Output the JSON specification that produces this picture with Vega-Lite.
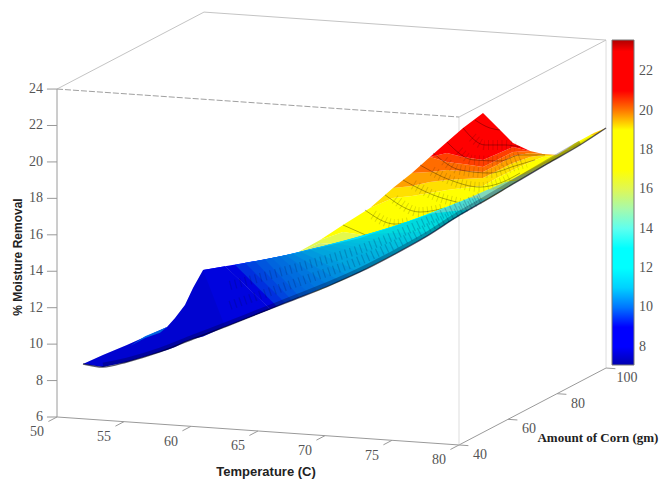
{
"$schema":"https://vega.github.io/schema/vega-lite/v6.json",
"width":660,"height":480,"padding":0,"autosize":{"type":"none"},
"background":"white",
"config":{"view":{"stroke":null}},
"datasets":{
"box":[
{"part":"axis","T":50,"C":40,"M":24,"T2":50,"C2":40,"M2":6},
{"part":"axis","T":50,"C":40,"M":6,"T2":80,"C2":40,"M2":6},
{"part":"axis","T":80,"C":40,"M":6,"T2":80,"C2":100,"M2":6},
{"part":"wall","T":80,"C":40,"M":6,"T2":80,"C2":40,"M2":24},
{"part":"wall","T":80,"C":100,"M":6,"T2":80,"C2":100,"M2":24},
{"part":"top","T":50,"C":40,"M":24,"T2":50,"C2":100,"M2":24},
{"part":"top","T":50,"C":100,"M":24,"T2":80,"C2":100,"M2":24},
{"part":"top","T":80,"C":40,"M":24,"T2":80,"C2":100,"M2":24},
{"part":"axis","T":50,"C":40,"M":24,"T2":49.25,"C2":40,"M2":23.96},
{"part":"axis","T":50,"C":40,"M":22,"T2":49.25,"C2":40,"M2":21.96},
{"part":"axis","T":50,"C":40,"M":20,"T2":49.25,"C2":40,"M2":19.96},
{"part":"axis","T":50,"C":40,"M":18,"T2":49.25,"C2":40,"M2":17.96},
{"part":"axis","T":50,"C":40,"M":16,"T2":49.25,"C2":40,"M2":15.96},
{"part":"axis","T":50,"C":40,"M":14,"T2":49.25,"C2":40,"M2":13.96},
{"part":"axis","T":50,"C":40,"M":12,"T2":49.25,"C2":40,"M2":11.96},
{"part":"axis","T":50,"C":40,"M":10,"T2":49.25,"C2":40,"M2":9.96},
{"part":"axis","T":50,"C":40,"M":8,"T2":49.25,"C2":40,"M2":7.96},
{"part":"axis","T":50,"C":40,"M":6,"T2":49.25,"C2":40,"M2":5.96},
{"part":"axis","T":50,"C":40,"M":6,"T2":50,"C2":36.5,"M2":6},
{"part":"axis","T":55,"C":40,"M":6,"T2":55,"C2":36.5,"M2":6},
{"part":"axis","T":60,"C":40,"M":6,"T2":60,"C2":36.5,"M2":6},
{"part":"axis","T":65,"C":40,"M":6,"T2":65,"C2":36.5,"M2":6},
{"part":"axis","T":70,"C":40,"M":6,"T2":70,"C2":36.5,"M2":6},
{"part":"axis","T":75,"C":40,"M":6,"T2":75,"C2":36.5,"M2":6},
{"part":"axis","T":80,"C":40,"M":6,"T2":80,"C2":36.5,"M2":6},
{"part":"axis","T":80,"C":40,"M":6,"T2":80.7,"C2":40,"M2":6},
{"part":"axis","T":80,"C":60,"M":6,"T2":80.7,"C2":60,"M2":6},
{"part":"axis","T":80,"C":80,"M":6,"T2":80.7,"C2":80,"M2":6},
{"part":"axis","T":80,"C":100,"M":6,"T2":80.7,"C2":100,"M2":6}
],
"dashedEdge":[{"T":50,"C":40,"M":24,"T2":80,"C2":40,"M2":24}],
"zTicks":[{"T":50,"C":40,"M":24},{"T":50,"C":40,"M":22},{"T":50,"C":40,"M":20},{"T":50,"C":40,"M":18},{"T":50,"C":40,"M":16},{"T":50,"C":40,"M":14},{"T":50,"C":40,"M":12},{"T":50,"C":40,"M":10},{"T":50,"C":40,"M":8},{"T":50,"C":40,"M":6}],
"tTicks":[{"T":50,"C":40,"M":6},{"T":55,"C":40,"M":6},{"T":60,"C":40,"M":6},{"T":65,"C":40,"M":6},{"T":70,"C":40,"M":6},{"T":75,"C":40,"M":6},{"T":80,"C":40,"M":6}],
"cTicks":[{"T":80,"C":40,"M":6},{"T":80,"C":60,"M":6},{"T":80,"C":80,"M":6},{"T":80,"C":100,"M":6}],
"sheetB":[
{"b":"B1","L":15.6,"X":67.61,"lo":12.48,"hi":14.89},{"b":"B1","L":15.6,"X":69.63,"lo":12.97,"hi":15.55},{"b":"B1","L":15.6,"X":71.34,"lo":13.52,"hi":15.44},{"b":"B1","L":15.6,"X":73.36,"lo":14.23,"hi":14.23},
{"b":"B2","L":16.1,"X":67.61,"lo":14.89,"hi":14.89},{"b":"B2","L":16.1,"X":69.63,"lo":15.55,"hi":15.71},{"b":"B2","L":16.1,"X":71.34,"lo":15.44,"hi":16.15},{"b":"B2","L":16.1,"X":73.36,"lo":14.23,"hi":15.93},{"b":"B2","L":16.1,"X":75.07,"lo":14.89,"hi":14.89},
{"b":"B3","L":17.8,"X":69.63,"lo":15.71,"hi":15.71},{"b":"B3","L":17.8,"X":71.34,"lo":16.15,"hi":16.54},{"b":"B3","L":17.8,"X":73.36,"lo":15.93,"hi":17.47},{"b":"B3","L":17.8,"X":75.07,"lo":14.89,"hi":18.02},{"b":"B3","L":17.8,"X":76.49,"lo":15.50,"hi":18.13},{"b":"B3","L":17.8,"X":77.83,"lo":16.10,"hi":18.29},{"b":"B3","L":17.8,"X":79.10,"lo":16.70,"hi":18.46},{"b":"B3","L":17.8,"X":80.30,"lo":17.31,"hi":18.57},{"b":"B3","L":17.8,"X":81.79,"lo":17.80,"hi":18.68},{"b":"B3","L":17.8,"X":82.84,"lo":18.24,"hi":19.12},{"b":"B3","L":17.8,"X":84.03,"lo":18.79,"hi":19.56},{"b":"B3","L":17.8,"X":85.30,"lo":19.39,"hi":20.00},{"b":"B3","L":17.8,"X":86.27,"lo":19.83,"hi":20.27},{"b":"B3","L":17.8,"X":87.39,"lo":20.38,"hi":20.38},
{"b":"B4","L":19.3,"X":73.36,"lo":17.47,"hi":17.47},{"b":"B4","L":19.3,"X":75.07,"lo":18.02,"hi":18.57},{"b":"B4","L":19.3,"X":76.49,"lo":18.13,"hi":18.68},{"b":"B4","L":19.3,"X":77.83,"lo":18.29,"hi":18.90},{"b":"B4","L":19.3,"X":79.10,"lo":18.46,"hi":19.01},{"b":"B4","L":19.3,"X":80.30,"lo":18.57,"hi":19.06},{"b":"B4","L":19.3,"X":81.79,"lo":18.68,"hi":19.12},{"b":"B4","L":19.3,"X":82.84,"lo":19.12,"hi":19.50},{"b":"B4","L":19.3,"X":84.03,"lo":19.56,"hi":19.94},{"b":"B4","L":19.3,"X":85.30,"lo":20.00,"hi":20.27},{"b":"B4","L":19.3,"X":86.27,"lo":20.27,"hi":20.38},{"b":"B4","L":19.3,"X":87.39,"lo":20.38,"hi":20.38},
{"b":"B5","L":19.7,"X":75.07,"lo":18.57,"hi":18.57},{"b":"B5","L":19.7,"X":76.49,"lo":18.68,"hi":19.39},{"b":"B5","L":19.7,"X":77.83,"lo":18.90,"hi":19.45},{"b":"B5","L":19.7,"X":79.10,"lo":19.01,"hi":19.56},{"b":"B5","L":19.7,"X":80.30,"lo":19.06,"hi":19.50},{"b":"B5","L":19.7,"X":81.79,"lo":19.12,"hi":19.45},{"b":"B5","L":19.7,"X":82.84,"lo":19.50,"hi":19.83},{"b":"B5","L":19.7,"X":84.03,"lo":19.94,"hi":20.33},{"b":"B5","L":19.7,"X":85.30,"lo":20.27,"hi":20.49},{"b":"B5","L":19.7,"X":86.27,"lo":20.38,"hi":20.43},{"b":"B5","L":19.7,"X":87.39,"lo":20.38,"hi":20.38},
{"b":"B6","L":20.2,"X":76.49,"lo":19.39,"hi":19.39},{"b":"B6","L":20.2,"X":77.83,"lo":19.45,"hi":20.27},{"b":"B6","L":20.2,"X":79.10,"lo":19.56,"hi":20.00},{"b":"B6","L":20.2,"X":80.30,"lo":19.50,"hi":19.89},{"b":"B6","L":20.2,"X":81.79,"lo":19.45,"hi":19.72},{"b":"B6","L":20.2,"X":82.84,"lo":19.83,"hi":20.11},{"b":"B6","L":20.2,"X":84.03,"lo":20.33,"hi":20.54},{"b":"B6","L":20.2,"X":85.30,"lo":20.49,"hi":20.60},{"b":"B6","L":20.2,"X":86.27,"lo":20.43,"hi":20.43},
{"b":"B7","L":20.7,"X":77.83,"lo":20.27,"hi":20.27},{"b":"B7","L":20.7,"X":79.10,"lo":20.00,"hi":20.49},{"b":"B7","L":20.7,"X":80.30,"lo":19.89,"hi":20.27},{"b":"B7","L":20.7,"X":81.79,"lo":19.72,"hi":20.11},{"b":"B7","L":20.7,"X":82.84,"lo":20.11,"hi":20.43},{"b":"B7","L":20.7,"X":84.03,"lo":20.54,"hi":20.82},{"b":"B7","L":20.7,"X":85.30,"lo":20.60,"hi":20.60},
{"b":"B8","L":22,"X":77.83,"lo":20.27,"hi":20.27},{"b":"B8","L":22,"X":79.10,"lo":20.49,"hi":21.09},{"b":"B8","L":22,"X":80.30,"lo":20.27,"hi":21.86},{"b":"B8","L":22,"X":81.79,"lo":20.11,"hi":22.69},{"b":"B8","L":22,"X":82.84,"lo":20.43,"hi":21.92},{"b":"B8","L":22,"X":84.03,"lo":20.82,"hi":21.04},{"b":"B8","L":22,"X":85.30,"lo":20.60,"hi":20.60}
],
"arcs":[
{"a":1,"X":71.34,"Y":16.54},{"a":1,"X":73.36,"Y":15.88},
{"a":2,"X":72.98,"Y":17.36},{"a":2,"X":75.22,"Y":16.59},{"a":2,"X":76.34,"Y":16.70},
{"a":3,"X":74.48,"Y":18.19},{"a":3,"X":77.09,"Y":17.25},{"a":3,"X":78.95,"Y":17.47},
{"a":4,"X":75.82,"Y":19.01},{"a":4,"X":78.06,"Y":18.19},{"a":4,"X":80.07,"Y":17.75},
{"a":5,"X":77.09,"Y":19.83},{"a":5,"X":79.33,"Y":19.01},{"a":5,"X":81.57,"Y":18.62},{"a":5,"X":83.06,"Y":18.84},{"a":5,"X":84.55,"Y":19.39},
{"a":6,"X":78.06,"Y":20.49},{"a":6,"X":80.07,"Y":19.56},{"a":6,"X":82.31,"Y":19.39},{"a":6,"X":84.18,"Y":19.78},{"a":6,"X":85.67,"Y":20.11},
{"a":7,"X":79.10,"Y":21.09},{"a":7,"X":81.05,"Y":20.11},{"a":7,"X":83.06,"Y":20.05},{"a":7,"X":84.55,"Y":20.38},{"a":7,"X":86.42,"Y":20.38},
{"a":8,"X":80.30,"Y":21.86},{"a":8,"X":81.94,"Y":20.93},{"a":8,"X":83.43,"Y":20.93},{"a":8,"X":84.55,"Y":20.82},
{"a":9,"X":81.19,"Y":22.30},{"a":9,"X":82.31,"Y":21.86},{"a":9,"X":83.06,"Y":21.75}
],
"hatch":[
{"a":2,"X":73.6,"Y":17.1},{"a":2,"X":75.22,"Y":16.59},{"a":2,"X":76.34,"Y":16.70},
{"a":3,"X":75.2,"Y":17.95},{"a":3,"X":77.09,"Y":17.25},{"a":3,"X":78.95,"Y":17.47},
{"a":4,"X":76.6,"Y":18.75},{"a":4,"X":78.06,"Y":18.19},{"a":4,"X":80.07,"Y":17.75},
{"a":5,"X":78.0,"Y":19.5},{"a":5,"X":79.33,"Y":19.01},{"a":5,"X":81.57,"Y":18.62},{"a":5,"X":83.06,"Y":18.84},{"a":5,"X":84.0,"Y":19.15},
{"a":6,"X":78.9,"Y":20.05},{"a":6,"X":80.07,"Y":19.56},{"a":6,"X":82.31,"Y":19.39},{"a":6,"X":84.18,"Y":19.78},{"a":6,"X":85.0,"Y":19.95},
{"a":7,"X":80.0,"Y":20.6},{"a":7,"X":81.05,"Y":20.11},{"a":7,"X":83.06,"Y":20.05},{"a":7,"X":84.55,"Y":20.30},
{"a":8,"X":81.0,"Y":21.35},{"a":8,"X":81.94,"Y":20.93},{"a":8,"X":83.43,"Y":20.93},{"a":8,"X":84.2,"Y":20.85}
],
"sheetA":[
{"b":"A00","L":7.5,"X":51.94,"lo":8.91,"hi":8.91},{"b":"A00","L":7.5,"X":53.43,"lo":8.74,"hi":9.40},{"b":"A00","L":7.5,"X":55.22,"lo":9.02,"hi":9.95},{"b":"A00","L":7.5,"X":56.72,"lo":9.35,"hi":10.45},{"b":"A00","L":7.5,"X":58.21,"lo":9.68,"hi":10.94},{"b":"A00","L":7.5,"X":58.81,"lo":9.84,"hi":11.43},{"b":"A00","L":7.5,"X":59.55,"lo":10.12,"hi":12.15},{"b":"A00","L":7.5,"X":60.15,"lo":10.28,"hi":13.08},{"b":"A00","L":7.5,"X":60.90,"lo":10.42,"hi":14.07},{"b":"A00","L":7.5,"X":62.54,"lo":10.95,"hi":14.27},{"b":"A00","L":7.5,"X":65.90,"lo":11.92,"hi":11.92},
{"b":"A01","L":10,"X":55.45,"lo":9.9,"hi":9.9},{"b":"A01","L":10,"X":56.57,"lo":10.33,"hi":10.43},{"b":"A01","L":10,"X":57.69,"lo":10.62,"hi":10.78},{"b":"A01","L":10,"X":58.21,"lo":10.94,"hi":10.94},
{"b":"A02","L":7.6,"X":60.90,"lo":14.07,"hi":14.07},{"b":"A02","L":7.6,"X":62.54,"lo":10.95,"hi":14.27},{"b":"A02","L":7.6,"X":65.90,"lo":11.92,"hi":11.92},
{"b":"A03","L":9.4,"X":62.54,"lo":14.27,"hi":14.27},{"b":"A03","L":9.4,"X":65.90,"lo":11.92,"hi":14.69},{"b":"A03","L":9.4,"X":66.42,"lo":12.07,"hi":12.07},
{"b":"A04","L":9.55,"X":63.28,"lo":14.35,"hi":14.35},{"b":"A04","L":9.55,"X":66.42,"lo":12.07,"hi":14.77},{"b":"A04","L":9.55,"X":67.02,"lo":12.25,"hi":12.25},
{"b":"A05","L":9.7,"X":64.03,"lo":14.46,"hi":14.46},{"b":"A05","L":9.7,"X":67.02,"lo":12.25,"hi":14.86},{"b":"A05","L":9.7,"X":67.54,"lo":12.40,"hi":12.40},
{"b":"A06","L":9.85,"X":64.78,"lo":14.55,"hi":14.55},{"b":"A06","L":9.85,"X":67.54,"lo":12.40,"hi":14.95},{"b":"A06","L":9.85,"X":68.13,"lo":12.57,"hi":12.57},
{"b":"A07","L":10,"X":65.52,"lo":14.64,"hi":14.64},{"b":"A07","L":10,"X":68.13,"lo":12.57,"hi":15.04},{"b":"A07","L":10,"X":68.81,"lo":12.77,"hi":12.77},
{"b":"A08","L":10.1,"X":66.04,"lo":14.72,"hi":14.72},{"b":"A08","L":10.1,"X":68.81,"lo":12.77,"hi":15.17},{"b":"A08","L":10.1,"X":69.48,"lo":12.97,"hi":12.97},
{"b":"A09","L":10.2,"X":66.64,"lo":14.81,"hi":14.81},{"b":"A09","L":10.2,"X":69.48,"lo":12.97,"hi":15.31},{"b":"A09","L":10.2,"X":70.30,"lo":13.21,"hi":13.21},
{"b":"A10","L":10.35,"X":67.09,"lo":14.88,"hi":14.88},{"b":"A10","L":10.35,"X":70.30,"lo":13.21,"hi":15.46},{"b":"A10","L":10.35,"X":71.12,"lo":13.47,"hi":13.47},
{"b":"A11","L":10.5,"X":67.61,"lo":14.96,"hi":14.96},{"b":"A11","L":10.5,"X":71.12,"lo":13.47,"hi":15.60},{"b":"A11","L":10.5,"X":71.87,"lo":13.72,"hi":13.72},
{"b":"A12","L":10.65,"X":68.21,"lo":15.06,"hi":15.06},{"b":"A12","L":10.65,"X":71.87,"lo":13.72,"hi":15.71},{"b":"A12","L":10.65,"X":72.61,"lo":13.96,"hi":13.96},
{"b":"A13","L":10.8,"X":68.88,"lo":15.19,"hi":15.19},{"b":"A13","L":10.8,"X":72.61,"lo":13.96,"hi":15.82},{"b":"A13","L":10.8,"X":73.51,"lo":14.30,"hi":14.30},
{"b":"A14","L":10.9,"X":69.48,"lo":15.31,"hi":15.31},{"b":"A14","L":10.9,"X":73.51,"lo":14.30,"hi":16.04},{"b":"A14","L":10.9,"X":74.48,"lo":14.67,"hi":14.67},
{"b":"A15","L":11,"X":70.15,"lo":15.44,"hi":15.44},{"b":"A15","L":11,"X":74.48,"lo":14.67,"hi":16.28},{"b":"A15","L":11,"X":75.22,"lo":14.95,"hi":14.95},
{"b":"A16","L":11.1,"X":70.75,"lo":15.53,"hi":15.53},{"b":"A16","L":11.1,"X":75.22,"lo":14.95,"hi":16.47},{"b":"A16","L":11.1,"X":75.97,"lo":15.26,"hi":15.26},
{"b":"A17","L":11.2,"X":71.34,"lo":15.63,"hi":15.63},{"b":"A17","L":11.2,"X":75.97,"lo":15.26,"hi":16.66},{"b":"A17","L":11.2,"X":76.72,"lo":15.57,"hi":15.57},
{"b":"A18","L":11.3,"X":71.94,"lo":15.72,"hi":15.72},{"b":"A18","L":11.3,"X":76.72,"lo":15.57,"hi":16.86},{"b":"A18","L":11.3,"X":77.46,"lo":15.87,"hi":15.87},
{"b":"A19","L":11.4,"X":72.61,"lo":15.82,"hi":15.82},{"b":"A19","L":11.4,"X":77.46,"lo":15.87,"hi":17.04},{"b":"A19","L":11.4,"X":78.21,"lo":16.21,"hi":16.21},
{"b":"A20","L":12,"X":73.51,"lo":16.04,"hi":16.04},{"b":"A20","L":12,"X":78.21,"lo":16.21,"hi":17.25},{"b":"A20","L":12,"X":78.95,"lo":16.57,"hi":16.57},
{"b":"A21","L":12.5,"X":74.48,"lo":16.28,"hi":16.28},{"b":"A21","L":12.5,"X":78.95,"lo":16.57,"hi":17.48},{"b":"A21","L":12.5,"X":79.85,"lo":16.98,"hi":16.98},
{"b":"A22","L":13.5,"X":76.12,"lo":16.70,"hi":16.70},{"b":"A22","L":13.5,"X":79.85,"lo":16.98,"hi":17.75},{"b":"A22","L":13.5,"X":80.82,"lo":17.40,"hi":17.40},
{"b":"A23","L":14,"X":77.83,"lo":17.15,"hi":17.15},{"b":"A23","L":14,"X":80.82,"lo":17.40,"hi":18.05},{"b":"A23","L":14,"X":82.16,"lo":17.98,"hi":17.98},
{"b":"A24","L":14.6,"X":80.82,"lo":18.05,"hi":18.05},{"b":"A24","L":14.6,"X":82.16,"lo":17.98,"hi":18.49},{"b":"A24","L":14.6,"X":83.43,"lo":18.53,"hi":18.53},
{"b":"A25","L":15.1,"X":82.31,"lo":18.53,"hi":18.53},{"b":"A25","L":15.1,"X":83.43,"lo":18.53,"hi":18.90},{"b":"A25","L":15.1,"X":84.55,"lo":19.01,"hi":19.01},
{"b":"A26","L":15.6,"X":83.81,"lo":19.01,"hi":19.01},{"b":"A26","L":15.6,"X":84.55,"lo":19.01,"hi":19.27},{"b":"A26","L":15.6,"X":85.67,"lo":19.50,"hi":19.50},
{"b":"A27","L":16.1,"X":84.93,"lo":19.39,"hi":19.39},{"b":"A27","L":16.1,"X":85.67,"lo":19.50,"hi":19.67},{"b":"A27","L":16.1,"X":86.79,"lo":19.97,"hi":19.97},
{"b":"A28","L":16.6,"X":86.04,"lo":19.83,"hi":19.83},{"b":"A28","L":16.6,"X":86.79,"lo":19.97,"hi":20.16},{"b":"A28","L":16.6,"X":87.91,"lo":20.46,"hi":20.65},{"b":"A28","L":16.6,"X":88.66,"lo":20.76,"hi":20.76},
{"b":"A29","L":17.5,"X":87.91,"lo":20.65,"hi":20.65},{"b":"A29","L":17.5,"X":88.66,"lo":20.76,"hi":21.03},{"b":"A29","L":17.5,"X":89.78,"lo":21.29,"hi":21.48},{"b":"A29","L":17.5,"X":90.15,"lo":21.47,"hi":21.47},
{"b":"A30","L":19.4,"X":89.78,"lo":21.48,"hi":21.48},{"b":"A30","L":19.4,"X":90.15,"lo":21.47,"hi":21.61},{"b":"A30","L":19.4,"X":90.97,"lo":21.86,"hi":21.86}
],
"shadeA":[
{"X":51.94,"lo":8.91,"hi":8.91},{"X":53.43,"lo":8.74,"hi":9.40},{"X":55.22,"lo":9.02,"hi":9.95},{"X":56.72,"lo":9.35,"hi":10.45},{"X":58.21,"lo":9.68,"hi":10.94},{"X":58.81,"lo":9.84,"hi":11.43},{"X":59.55,"lo":10.12,"hi":12.15},{"X":60.15,"lo":10.28,"hi":13.08},{"X":60.90,"lo":10.42,"hi":14.07},{"X":63.66,"lo":11.27,"hi":14.38},{"X":67.91,"lo":12.53,"hi":15.00},{"X":72.61,"lo":13.96,"hi":15.82},{"X":77.61,"lo":15.93,"hi":17.09},{"X":80.07,"lo":17.09,"hi":17.80},{"X":84.03,"lo":18.79,"hi":19.08},{"X":87.39,"lo":20.21,"hi":20.41},{"X":90.97,"lo":21.86,"hi":21.86}
],
"meshA":[
{"a":1,"X":62.91,"Y":13.22},{"a":1,"X":68.13,"Y":14.25},{"a":1,"X":72.61,"Y":15.21},{"a":1,"X":77.61,"Y":16.75},{"a":1,"X":81.57,"Y":18.11},
{"a":2,"X":62.91,"Y":12.13},{"a":2,"X":68.13,"Y":13.44},{"a":2,"X":72.61,"Y":14.60},{"a":2,"X":77.61,"Y":16.36},{"a":2,"X":81.57,"Y":17.93}
],
"edge":[
{"X":51.94,"Y":8.91},{"X":53.43,"Y":8.74},{"X":55.22,"Y":9.02},{"X":57.69,"Y":9.57},{"X":60.15,"Y":10.28},{"X":62.69,"Y":10.99},{"X":65.15,"Y":11.71},{"X":67.61,"Y":12.42},{"X":70.15,"Y":13.16},{"X":72.61,"Y":13.96},{"X":75.07,"Y":14.89},{"X":77.61,"Y":15.93},{"X":80.07,"Y":17.09},{"X":81.57,"Y":17.72},{"X":84.03,"Y":18.79},{"X":86.57,"Y":19.89},{"X":89.03,"Y":20.93},{"X":90.97,"Y":21.86}
]
},
"layer":[
{"data":{"name":"box"},
 "transform":[
  {"calculate":"datum.T+0.18284*(datum.C-40)","as":"X"},{"calculate":"datum.M-0.0512*(datum.T-50)+0.0704*(datum.C-40)","as":"Y"},
  {"calculate":"datum.T2+0.18284*(datum.C2-40)","as":"X2"},{"calculate":"datum.M2-0.0512*(datum.T2-50)+0.0704*(datum.C2-40)","as":"Y2"}],
 "mark":{"type":"rule","strokeWidth":1},
 "encoding":{
  "x":{"field":"X","type":"quantitative","scale":{"domain":[45.746,94.999],"nice":false,"zero":false},"axis":null},
  "y":{"field":"Y","type":"quantitative","scale":{"domain":[2.542,28.887],"nice":false,"zero":false},"axis":null},
  "x2":{"field":"X2"},"y2":{"field":"Y2"},
  "stroke":{"field":"part","type":"nominal","scale":{"domain":["axis","wall","top"],"range":["#9a9a9a","#dddddd","#c4c4c4"]},"legend":null}}},
{"data":{"name":"dashedEdge"},
 "transform":[
  {"calculate":"datum.T+0.18284*(datum.C-40)","as":"X"},{"calculate":"datum.M-0.0512*(datum.T-50)+0.0704*(datum.C-40)","as":"Y"},
  {"calculate":"datum.T2+0.18284*(datum.C2-40)","as":"X2"},{"calculate":"datum.M2-0.0512*(datum.T2-50)+0.0704*(datum.C2-40)","as":"Y2"}],
 "mark":{"type":"rule","strokeWidth":1,"color":"#a0a0a0","strokeDash":[6,2]},
 "encoding":{"x":{"field":"X","type":"quantitative"},"y":{"field":"Y","type":"quantitative"},"x2":{"field":"X2"},"y2":{"field":"Y2"}}},
{"data":{"name":"sheetB"},
 "mark":{"type":"area","opacity":1},
 "encoding":{
  "x":{"field":"X","type":"quantitative"},"y":{"field":"lo","type":"quantitative"},"y2":{"field":"hi"},
  "detail":{"field":"b"},
  "color":{"field":"L","type":"quantitative",
   "scale":{"domain":[7.08,7.6,9.4,11.6,13.7,14.5,15.5,16.6,19.1,19.9,21,23,23.58],
    "range":["#0000b0","#0000ff","#0000ff","#00ffff","#00ffff","#9affdd","#ccee77","#ffff00","#ffff00","#ff8000","#ff0000","#ff0000","#b00000"],"nice":false,"zero":false,"clamp":true},
   "legend":{"orient":"none","legendX":612,"legendY":40,"title":null,"direction":"vertical","gradientLength":325,"gradientThickness":22,"values":[8,10,12,14,16,18,20,22],
    "labelFont":"Liberation Serif","labelFontSize":14,"labelColor":"#555555","gradientStrokeColor":"#777777","gradientStrokeWidth":1,"labelOverlap":false,"labelOffset":5}}}},
{"data":{"name":"arcs"},"mark":{"type":"line","color":"#000000","opacity":0.4,"strokeWidth":0.8,"interpolate":"monotone"},
 "encoding":{"x":{"field":"X","type":"quantitative"},"y":{"field":"Y","type":"quantitative"},"detail":{"field":"a"}}},
{"data":{"name":"hatch"},"mark":{"type":"line","color":"#000000","opacity":0.14,"strokeWidth":10,"strokeDash":[1,3.5],"interpolate":"monotone"},
 "encoding":{"x":{"field":"X","type":"quantitative"},"y":{"field":"Y","type":"quantitative"},"detail":{"field":"a"}}},
{"data":{"name":"sheetA"},
 "mark":{"type":"area","opacity":1},
 "encoding":{
  "x":{"field":"X","type":"quantitative"},"y":{"field":"lo","type":"quantitative"},"y2":{"field":"hi"},
  "detail":{"field":"b"},
  "color":{"field":"L","type":"quantitative"}}},
{"data":{"name":"shadeA"},"mark":{"type":"area","color":"#001030","opacity":0.16},
 "encoding":{"x":{"field":"X","type":"quantitative"},"y":{"field":"lo","type":"quantitative"},"y2":{"field":"hi"}}},
{"data":{"name":"meshA"},"mark":{"type":"line","color":"#001040","opacity":0.2,"strokeWidth":9,"strokeDash":[1.2,4],"interpolate":"monotone"},
 "encoding":{"x":{"field":"X","type":"quantitative"},"y":{"field":"Y","type":"quantitative"},"detail":{"field":"a"}}},
{"data":{"name":"edge"},"transform":[{"filter":"datum.X>53 && datum.X<90.5"},{"calculate":"datum.Y+0.13","as":"Yin"}],
 "mark":{"type":"line","color":"#000020","opacity":0.28,"strokeWidth":4,"interpolate":"monotone"},
 "encoding":{"x":{"field":"X","type":"quantitative"},"y":{"field":"Yin","type":"quantitative"}}},
{"data":{"name":"edge"},"mark":{"type":"line","color":"#000020","opacity":0.65,"strokeWidth":1.4,"interpolate":"monotone"},
 "encoding":{"x":{"field":"X","type":"quantitative"},"y":{"field":"Y","type":"quantitative"}}},
{"data":{"name":"zTicks"},"mark":{"type":"text","font":"Liberation Serif","fontSize":14,"color":"#555555","align":"right","baseline":"middle","dx":-14},
 "transform":[{"calculate":"datum.T+0.18284*(datum.C-40)","as":"X"},{"calculate":"datum.M-0.0512*(datum.T-50)+0.0704*(datum.C-40)","as":"Y"}],
 "encoding":{"x":{"field":"X","type":"quantitative"},"y":{"field":"Y","type":"quantitative"},"text":{"field":"M","type":"nominal"}}},
{"data":{"name":"tTicks"},"mark":{"type":"text","font":"Liberation Serif","fontSize":14,"color":"#555555","align":"center","baseline":"middle","dx":-20,"dy":15.5},
 "transform":[{"calculate":"datum.T+0.18284*(datum.C-40)","as":"X"},{"calculate":"datum.M-0.0512*(datum.T-50)+0.0704*(datum.C-40)","as":"Y"}],
 "encoding":{"x":{"field":"X","type":"quantitative"},"y":{"field":"Y","type":"quantitative"},"text":{"field":"T","type":"nominal"}}},
{"data":{"name":"cTicks"},"mark":{"type":"text","font":"Liberation Serif","fontSize":14,"color":"#555555","align":"center","baseline":"middle","dx":21,"dy":10},
 "transform":[{"calculate":"datum.T+0.18284*(datum.C-40)","as":"X"},{"calculate":"datum.M-0.0512*(datum.T-50)+0.0704*(datum.C-40)","as":"Y"}],
 "encoding":{"x":{"field":"X","type":"quantitative"},"y":{"field":"Y","type":"quantitative"},"text":{"field":"C","type":"nominal"}}},
{"data":{"values":[{"X":65.6,"Y":2.98,"t":"Temperature (C)"}]},"mark":{"type":"text","font":"Liberation Sans","fontWeight":"bold","fontSize":13,"color":"#222222","align":"center","baseline":"middle"},
 "encoding":{"x":{"field":"X","type":"quantitative"},"y":{"field":"Y","type":"quantitative"},"text":{"field":"t"}}},
{"data":{"values":[{"X":47.09,"Y":14.78,"t":"% Moisture Removal"}]},"mark":{"type":"text","font":"Liberation Sans","fontWeight":"bold","fontSize":12,"color":"#222222","align":"center","baseline":"middle","angle":270},
 "encoding":{"x":{"field":"X","type":"quantitative"},"y":{"field":"Y","type":"quantitative"},"text":{"field":"t"}}},
{"data":{"values":[{"X":90.37,"Y":4.85,"t":"Amount of Corn (gm)"}]},"mark":{"type":"text","font":"Liberation Serif","fontWeight":"bold","fontSize":13,"color":"#222222","align":"center","baseline":"middle"},
 "encoding":{"x":{"field":"X","type":"quantitative"},"y":{"field":"Y","type":"quantitative"},"text":{"field":"t"}}}
]
}
